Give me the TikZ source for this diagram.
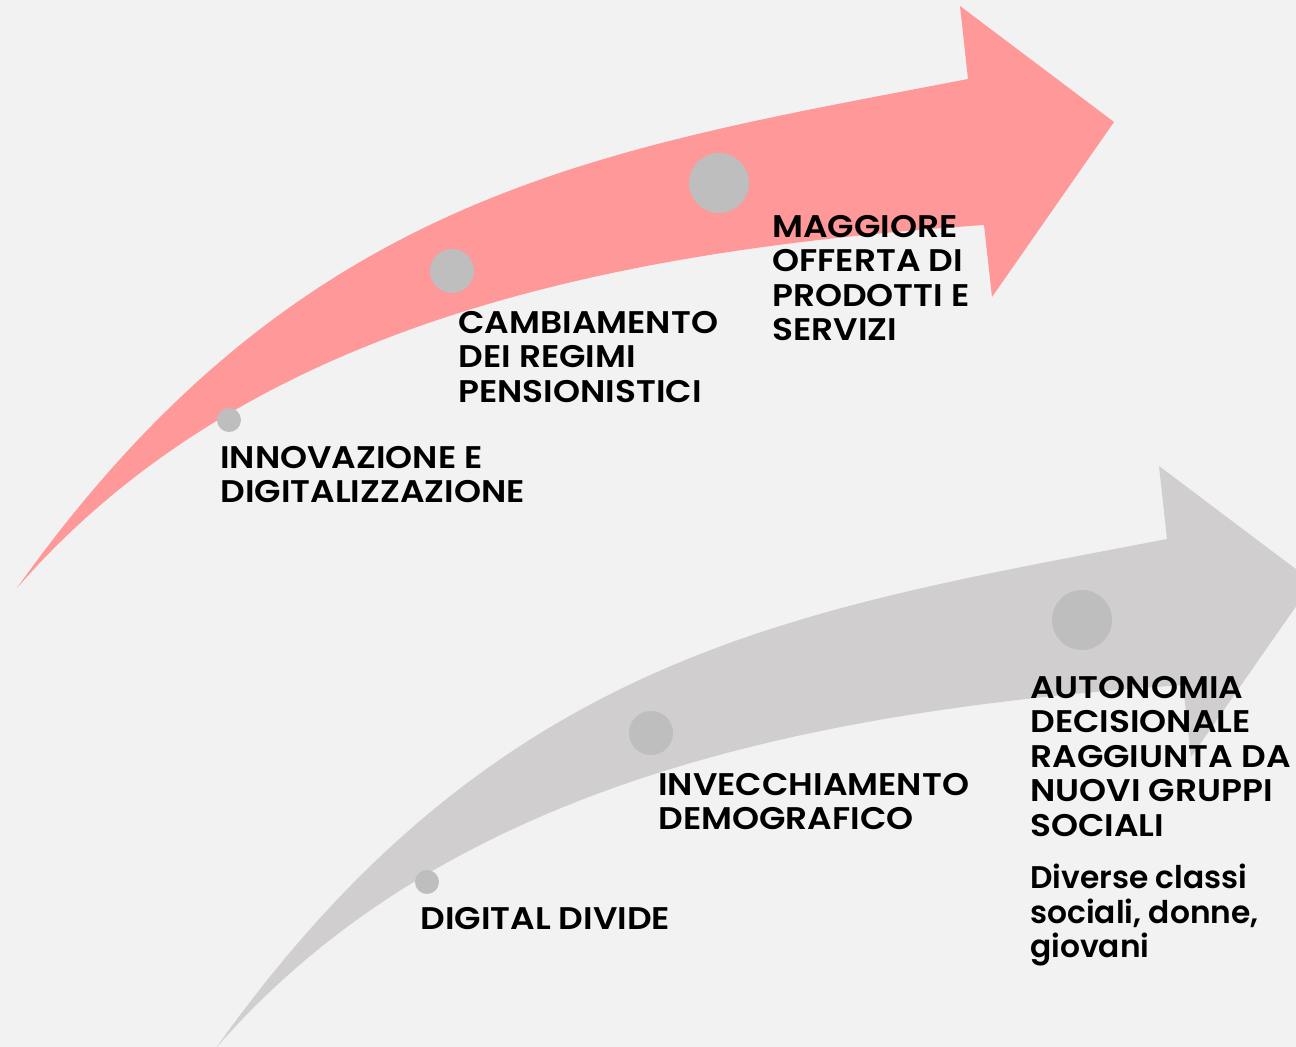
\documentclass[tikz,border=0pt]{standalone}
\usepackage{fontspec}
\setmainfont{Poppins}[UprightFont={* SemiBold}]
\newfontfamily\widefont{Poppins}[UprightFont={* SemiBold}, FakeStretch=1.1]
\definecolor{bgcol}{HTML}{F2F2F2}
\definecolor{arrowpink}{HTML}{FF9898}
\definecolor{arrowgrey}{HTML}{D0CECF}
\definecolor{dotgrey}{HTML}{BEBEBE}
\tikzset{
  label/.style={anchor=north west, inner sep=0pt, align=left,
    font=\widefont\fontsize{17.8}{19.6}\selectfont, text=black},
  note/.style={label, font=\fontsize{17.8}{19.6}\selectfont}
}
\begin{document}
\begin{tikzpicture}[x=0.02cm, y=-0.02cm]
  \useasboundingbox (0,0) rectangle (1296,1047);
  \clip (0,0) rectangle (1296,1047);
  \fill [bgcol] (0,0) rectangle (1296,1047);
  % the two curved arrows, same outline shifted
  \foreach \dx/\dy/\col in {0/0/arrowpink, 199/460/arrowgrey}
  {
    \fill [\col, shift={(\dx,\dy)}] (17,588) .. controls (300,190) and (600,150) .. (968,79)
      -- (960,6) -- (1114,122) -- (992,297) -- (984,225)
      .. controls (620,250) and (250,320) .. (17,588) -- cycle;
  }
  % dots along the arrows
  \foreach \x/\y/\r in {229/420/12, 452/271/22, 719/183/30,
                        427/882/12, 651/733/22, 1082/620/30}
  {
    \fill [dotgrey] (\x,\y) circle (\r);
  }
  \node [label] (innov) at (220,446) {INNOVAZIONE E\\DIGITALIZZAZIONE};
  \node [label] (pens) at (458,311) {CAMBIAMENTO\\DEI REGIMI\\PENSIONISTICI};
  \node [label] (offer) at (772,215) {MAGGIORE\\OFFERTA DI\\PRODOTTI E\\SERVIZI};
  \node [label] (divide) at (420,907) {DIGITAL DIVIDE};
  \node [label] (demo) at (658,773) {INVECCHIAMENTO\\DEMOGRAFICO};
  \node [label] (auton) at (1030,676) {AUTONOMIA\\DECISIONALE\\RAGGIUNTA DA\\NUOVI GRUPPI\\SOCIALI};
  \node [note] (groups) at (1030,864) {Diverse classi\\sociali, donne,\\giovani};
\end{tikzpicture}
\end{document}
